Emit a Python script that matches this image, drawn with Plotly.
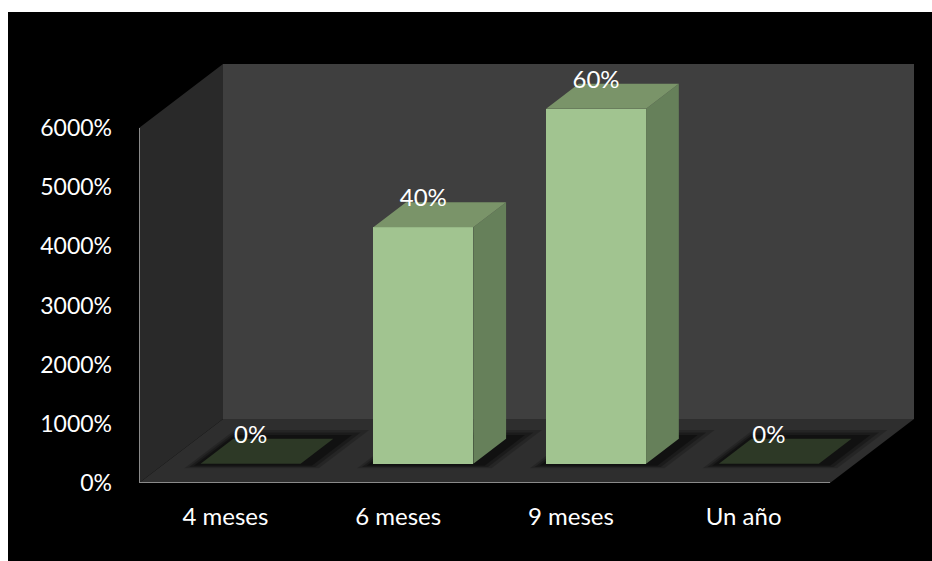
import plotly.graph_objects as go

# ---------------- data ----------------
categories = ["4 meses", "6 meses", "9 meses", "Un año"]
values = [0, 40, 60, 0]
bar_labels = ["0%", "40%", "60%", "0%"]
y_ticks = [0, 10, 20, 30, 40, 50, 60]
y_max = 60

# ---------------- geometry / style ----------------
W, H = 932, 561
ML, MR, MT, MB = 139, 0, 12, 78
PX_PER_CAT = 172.75
PX_PER_UNIT = 355 / 60
DX = 84 / PX_PER_CAT          # depth offset in x units
DY = 64 / PX_PER_UNIT         # depth offset in y units
F0, F1 = 0.30, 0.69           # bar depth span (fraction of floor depth)
BW = 100 / PX_PER_CAT         # bar width in x units
FONT = "Lato"
FS = 23

C_BACK = "#3f3f3f"
C_SIDE = "#292929"
C_FLOOR = "#2e2e2e"
C_FRONT = "#a1c490"
C_RSIDE = "#66805a"
C_TOP = "#7a9469"
C_ZERO = "#2d3926"
C_AXIS = "#8a8a8a"

x_lo = -0.5
x_hi = x_lo + (W - ML - MR) / PX_PER_CAT
y_hi = (H - MT - MB) / PX_PER_UNIT
n = len(categories)


def path(points):
    return "M " + " L ".join(f"{x},{y}" for x, y in points) + " Z"


shapes = []
# black chart area
shapes.append(dict(type="rect", xref="paper", yref="paper",
                   x0=(8 - ML) / (W - ML - MR), x1=1.01,
                   y0=-MB / (H - MT - MB) - 0.02, y1=1.0,
                   fillcolor="black", line=dict(width=0), layer="below"))
# back wall
shapes.append(dict(type="rect", xref="x", yref="y",
                   x0=x_lo + DX, x1=x_lo + n + DX, y0=DY, y1=y_max + DY,
                   fillcolor=C_BACK, line=dict(width=0), layer="below"))
# side wall
shapes.append(dict(type="path", xref="x", yref="y",
                   path=path([(x_lo, 0), (x_lo, y_max), (x_lo + DX, y_max + DY), (x_lo + DX, DY)]),
                   fillcolor=C_SIDE, line=dict(width=0), layer="below"))
# floor
shapes.append(dict(type="path", xref="x", yref="y",
                   path=path([(x_lo, 0), (x_lo + n, 0), (x_lo + n + DX, DY), (x_lo + DX, DY)]),
                   fillcolor=C_FLOOR, line=dict(width=0), layer="below"))

# soft shadows on the floor around each bar footprint
for i, v in enumerate(values):
    for k, (ex, ef, op) in enumerate([(0.10, 0.14, 0.18), (0.07, 0.10, 0.25), (0.04, 0.06, 0.35)]):
        xl = i - BW / 2 - ex * 0.6
        xr = i + BW / 2 + ex + 0.04
        f0 = max(F0 - ef * 0.5, 0.02)
        f1 = min(F1 + ef, 0.98)
        pts = [(xl + f0 * DX, f0 * DY), (xr + f0 * DX, f0 * DY),
               (xr + f1 * DX, f1 * DY), (xl + f1 * DX, f1 * DY)]
        shapes.append(dict(type="path", xref="x", yref="y", path=path(pts),
                           fillcolor=f"rgba(0,0,0,{op})", line=dict(width=0), layer="below"))

# axis lines (front edges)
shapes.append(dict(type="line", xref="x", yref="y", x0=x_lo, x1=x_lo, y0=0, y1=y_max,
                   line=dict(color=C_AXIS, width=2)))
shapes.append(dict(type="line", xref="x", yref="y", x0=x_lo, x1=x_lo + n, y0=0, y1=0,
                   line=dict(color=C_AXIS, width=2)))

fig = go.Figure()

# front faces of bars
xs_front = [i + F0 * DX for i in range(n)]
fig.add_trace(go.Bar(x=xs_front, y=values, base=[F0 * DY] * n, width=BW,
                     marker=dict(color=C_FRONT, line=dict(width=0)),
                     hoverinfo="skip", showlegend=False))

# right sides and tops
for i, v in enumerate(values):
    xc = i + F0 * DX
    xl, xr = xc - BW / 2, xc + BW / 2
    b = F0 * DY
    t = v + F0 * DY
    ddx = (F1 - F0) * DX
    ddy = (F1 - F0) * DY
    if v > 0:
        side = [(xr, b), (xr + ddx, b + ddy), (xr + ddx, t + ddy), (xr, t), (xr, b)]
        fig.add_trace(go.Scatter(x=[p[0] for p in side], y=[p[1] for p in side],
                                 fill="toself", fillcolor=C_RSIDE, mode="lines",
                                 line=dict(width=0), hoverinfo="skip", showlegend=False))
    top = [(xl, t), (xr, t), (xr + ddx, t + ddy), (xl + ddx, t + ddy), (xl, t)]
    fig.add_trace(go.Scatter(x=[p[0] for p in top], y=[p[1] for p in top],
                             fill="toself", fillcolor=C_TOP if v > 0 else C_ZERO, mode="lines",
                             line=dict(width=0), hoverinfo="skip", showlegend=False))

# data labels
fig.add_trace(go.Scatter(x=xs_front, y=[v + F1 * DY + 0.3 for v in values],
                         mode="text", text=bar_labels, textposition="middle center",
                         textfont=dict(color="white", size=FS + 1, family=FONT),
                         hoverinfo="skip", showlegend=False))

fig.update_layout(
    width=W, height=H,
    margin=dict(l=ML, r=MR, t=MT, b=MB, pad=0),
    paper_bgcolor="white", plot_bgcolor="rgba(0,0,0,0)",
    shapes=shapes, showlegend=False, bargap=0,
    font=dict(family=FONT, size=FS, color="white"),
    xaxis=dict(range=[x_lo, x_hi], tickvals=list(range(n)), ticktext=categories,
               showgrid=False, zeroline=False, showline=False, ticks="",
               ticklabelstandoff=17, tickfont=dict(color="white", size=FS + 1, family=FONT),
               fixedrange=True),
    yaxis=dict(range=[0, y_hi], tickvals=y_ticks, tickformat=".0%",
               showgrid=False, zeroline=False, showline=False, ticks="",
               ticklabelstandoff=26, tickfont=dict(color="white", size=FS, family=FONT),
               fixedrange=True),
)

fig.write_html("out.html")
